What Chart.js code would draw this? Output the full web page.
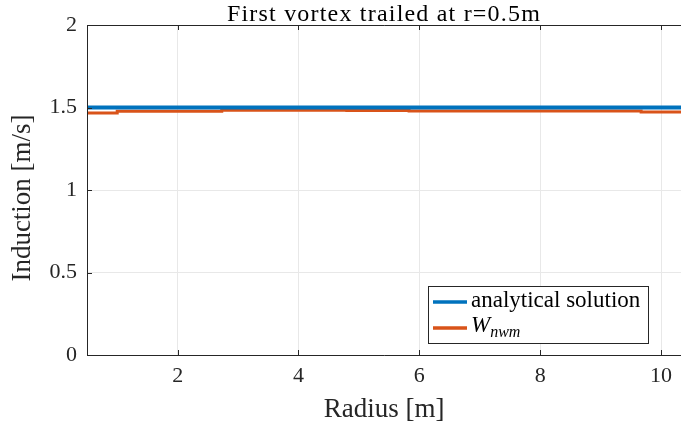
<!DOCTYPE html>
<html>
<head>
<meta charset="utf-8">
<script src="https://cdn.jsdelivr.net/npm/chart.js@4/dist/chart.umd.min.js"></script>
<style>
  html, body { margin: 0; padding: 0; background: #fff; }
  canvas { display: block; }
</style>
</head>
<body>
<canvas id="grafica" width="681" height="428"></canvas>
<script>
// datos
const tituloGrafica = 'First vortex trailed at r=0.5m';
const tituloY = 'Induction [m/s]';
const radioAnalitico = [0.5, 10.33];
const induccionAnalitica = [1.5, 1.5];
const radioNwm = [0.5, 1.0, 2.73, 4.8, 5.83, 9.67, 10.33];
const induccionNwm = [1.466, 1.478, 1.484, 1.482, 1.479, 1.472, 1.472];
const ticksX = [2, 4, 6, 8, 10];
const ticksY = [0, 0.5, 1, 1.5, 2];

const AZUL = '#0072BD';
const NARANJA = '#D95319';
const EJE = '#262626';
const FUENTE = '"Liberation Serif", "DejaVu Serif", serif';

function puntos(xs, ys) {
    return xs.map((x, i) => ({ x: x, y: ys[i] }));
}

// marco, ticks hacia adentro, titulos y leyenda estilo matlab
const marcoMatlab = {
    id: 'marcoMatlab',
    afterDraw(chart) {
        const ctx = chart.ctx;
        const a = chart.chartArea;
        const sx = chart.scales.x, sy = chart.scales.y;
        ctx.save();
        ctx.strokeStyle = EJE;
        ctx.lineWidth = 1;
        ctx.beginPath();
        ctx.moveTo(a.left + 0.5, a.top + 0.5);
        ctx.lineTo(a.right, a.top + 0.5);
        ctx.moveTo(a.left + 0.5, a.top);
        ctx.lineTo(a.left + 0.5, a.bottom + 0.5);
        ctx.lineTo(a.right, a.bottom + 0.5);
        ticksX.forEach(v => {
            const px = Math.round(sx.getPixelForValue(v)) + 0.5;
            ctx.moveTo(px, a.bottom); ctx.lineTo(px, a.bottom - 5);
            ctx.moveTo(px, a.top); ctx.lineTo(px, a.top + 5);
        });
        ticksY.forEach(v => {
            const py = Math.round(sy.getPixelForValue(v)) + 0.5;
            ctx.moveTo(a.left, py); ctx.lineTo(a.left + 5, py);
        });
        ctx.stroke();

        // titulo
        ctx.fillStyle = '#000';
        ctx.font = '24px ' + FUENTE;
        ctx.letterSpacing = '1.2px';
        ctx.textAlign = 'center';
        ctx.textBaseline = 'alphabetic';
        ctx.fillText(tituloGrafica, (a.left + a.right) / 2, 21);
        ctx.letterSpacing = '0px';

        // titulo eje y
        ctx.save();
        ctx.fillStyle = EJE;
        ctx.font = '27px ' + FUENTE;
        ctx.translate(30, (a.top + a.bottom) / 2 + 8);
        ctx.rotate(-Math.PI / 2);
        ctx.textAlign = 'center';
        ctx.textBaseline = 'alphabetic';
        ctx.fillText(tituloY, 0, 0);
        ctx.restore();

        // leyenda
        const bx = a.right - 253, by = a.bottom - 69, bw = 220, bh = 57;
        ctx.fillStyle = '#fff';
        ctx.fillRect(bx, by, bw, bh);
        ctx.strokeStyle = EJE;
        ctx.strokeRect(bx + 0.5, by + 0.5, bw, bh);
        const filas = [by + 16, by + 42];
        chart.data.datasets.forEach((ds, i) => {
            ctx.strokeStyle = ds.borderColor;
            ctx.lineWidth = 3.5;
            ctx.beginPath();
            ctx.moveTo(bx + 5, filas[i]);
            ctx.lineTo(bx + 39, filas[i]);
            ctx.stroke();
        });
        ctx.fillStyle = '#000';
        ctx.textAlign = 'left';
        ctx.textBaseline = 'middle';
        ctx.font = '23px ' + FUENTE;
        ctx.fillText('analytical solution', bx + 43, filas[0] - 1);
        ctx.font = 'italic 23px ' + FUENTE;
        ctx.fillText('W', bx + 43, filas[1] - 2);
        const wW = ctx.measureText('W').width;
        ctx.font = 'italic 16px ' + FUENTE;
        ctx.fillText('nwm', bx + 43 + wW, filas[1] + 5);
        ctx.restore();
    }
};

new Chart(document.getElementById('grafica'), {
    type: 'line',
    data: {
        datasets: [{
            label: 'analytical solution',
            data: puntos(radioAnalitico, induccionAnalitica),
            borderColor: AZUL,
            borderWidth: 4,
            pointRadius: 0,
            fill: false
        }, {
            label: 'W_nwm',
            data: puntos(radioNwm, induccionNwm),
            borderColor: NARANJA,
            borderWidth: 3,
            pointRadius: 0,
            stepped: 'before',
            fill: false
        }]
    },
    options: {
        responsive: false,
        animation: false,
        devicePixelRatio: 1,
        layout: { padding: { top: 25, right: 0, left: 0, bottom: 0 } },
        plugins: {
            legend: { display: false },
            tooltip: { enabled: false }
        },
        scales: {
            x: {
                type: 'linear',
                min: 0.5,
                max: 10.33,
                afterFit: s => { s.height = 73; },
                afterBuildTicks: s => { s.ticks = ticksX.map(v => ({ value: v })); },
                border: { display: false },
                grid: { color: '#e8e8e8', drawTicks: false },
                ticks: {
                    color: EJE,
                    padding: 8,
                    font: { family: FUENTE, size: 22 },
                    maxRotation: 0
                },
                title: {
                    display: true,
                    text: 'Radius [m]',
                    color: EJE,
                    font: { family: FUENTE, size: 27 },
                    padding: { top: 0, bottom: 2 }
                }
            },
            y: {
                type: 'linear',
                min: 0,
                max: 2,
                afterFit: s => { s.width = 87; },
                afterBuildTicks: s => { s.ticks = ticksY.map(v => ({ value: v })); },
                border: { display: false },
                grid: { color: '#e8e8e8', drawTicks: false },
                ticks: {
                    color: EJE,
                    padding: 10,
                    font: { family: FUENTE, size: 22 },
                    callback: v => String(v)
                }
            }
        }
    },
    plugins: [marcoMatlab]
});
</script>
</body>
</html>
